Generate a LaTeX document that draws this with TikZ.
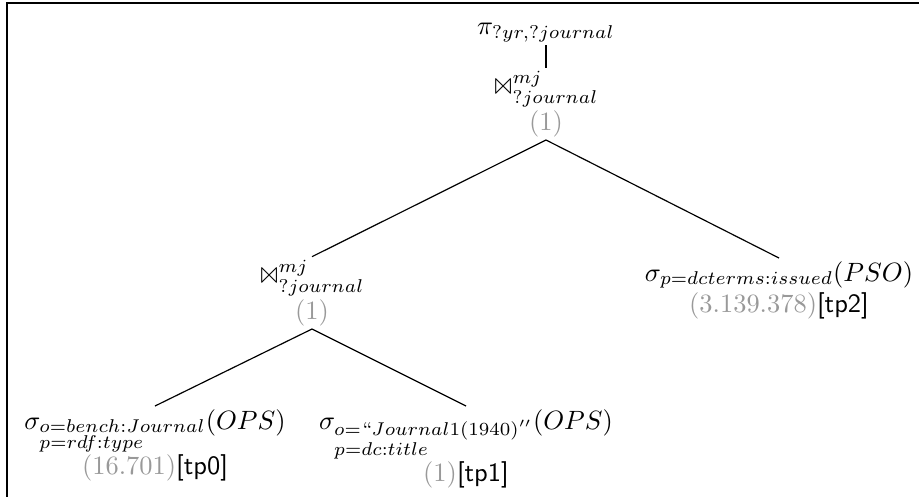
\documentclass[tikz,border=0pt]{standalone}
\usepackage{amsmath}
\usepackage{latexsym}
\usetikzlibrary{calc}
\definecolor{cardgray}{gray}{0.6}
% cardinality estimate, set in grey
\newcommand{\card}[1]{\textcolor{cardgray}{$(#1)$}}
% triple pattern label
\newcommand{\tpl}[1]{\textsf{[#1]}}
% merge join on a variable
\newcommand{\mjoin}[1]{\Join^{mj}_{#1}}
\begin{document}
\begin{tikzpicture}[x=0.378pt,y=-0.378pt,
  op/.style={align=center, inner sep=1pt},
  edge/.style={line width=0.45pt},
  frame/.style={line width=0.8pt}]
\useasboundingbox (0,0) rectangle (919,497);
\draw[frame] (919,3) -- (7,3) -- (7,497);

% operator tree
\node[op, anchor=south] (pi) at (546,45) {$\pi_{?yr,?journal}$};
\node[op, anchor=south] (j1) at (546,140)
  {$\mjoin{?journal}$\\[1pt]\card{1}};
\node[op, anchor=south] (j2) at (312,329)
  {$\mjoin{?journal}$\\[1pt]\card{1}};
\node[op, anchor=north] (tp2) at (779,258)
  {$\sigma_{p=dcterms:issued}(PSO)$\\\card{3.139.378}\tpl{tp2}};
\node[op, anchor=north] (tp0) at (155,406)
  {$\sigma_{\begin{subarray}{l}o=bench:Journal\\p=rdf:type\end{subarray}}(OPS)$\\\card{16.701}\tpl{tp0}};
\node[op, anchor=north] (tp1) at (466,406)
  {$\sigma_{\begin{subarray}{l}o=``Journal1(1940)''\\p=dc:title\end{subarray}}(OPS)$\\\card{1}\tpl{tp1}};

\draw[edge] (pi.south) -- (j1.north);
\draw[edge] (j1.south) -- (j2.north);
\draw[edge] (j1.south) -- (tp2.north);
\draw[edge] (j2.south) -- (tp0.north);
\draw[edge] (j2.south) -- (tp1.north);
\end{tikzpicture}
\end{document}
